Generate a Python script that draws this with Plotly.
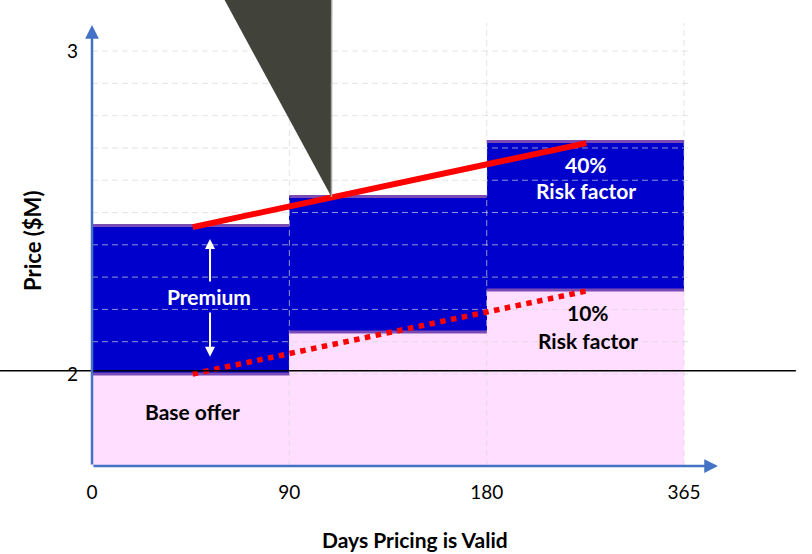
import plotly.graph_objects as go

# ---------------- data ----------------
period_ticks = ["0", "90", "180", "365"]          # days pricing is valid (segment boundaries)
base_offer = [2.0, 2.13, 2.26]                     # base offer price ($M) per validity period
total_price = [2.46, 2.55, 2.72]                   # base + premium ($M)
y_ticks = [2, 3]
grid_levels = [2.0, 2.1, 2.2, 2.3, 2.4, 2.5, 2.6, 2.7, 2.8, 2.9, 3.0]

# trend lines (start / end), in segment-position units
risk40_x = [0.51, 2.505]
risk40_y = [2.455, 2.715]
risk10_x = [0.51, 2.505]
risk10_y = [2.0, 2.257]

# ---------------- layout constants ----------------
X_RANGE = [0, 3.03]
Y_RANGE = [1.715, 3.087]
FONT = "Lato"
BLUE = "#0000CC"
PINK = "#FFDEFF"
PURPLE = "#7B4BB5"
AXIS_BLUE = "#4472C4"
GRID = "rgba(215,215,215,0.68)"

n = len(base_offer)
pos = list(range(len(period_ticks)))
centers = [p + 0.5 for p in pos[:-1]]
premium = [t - b for t, b in zip(total_price, base_offer)]

fig = go.Figure()

# base offer (pink)
fig.add_trace(go.Bar(x=centers, y=base_offer, width=[1] * n, marker=dict(color=PINK, line=dict(width=0)),
                     hoverinfo="skip", name="Base offer"))
# premium (blue)
fig.add_trace(go.Bar(x=centers, y=premium, base=base_offer, width=[1] * n,
                     marker=dict(color=BLUE, line=dict(width=0)), hoverinfo="skip", name="Premium"))

# grid (drawn over the bars)
gx, gy = [], []
for lv in grid_levels:
    gx += [X_RANGE[0], X_RANGE[1], None]
    gy += [lv, lv, None]
for p in pos[1:]:
    gx += [p, p, None]
    gy += [Y_RANGE[0], Y_RANGE[1], None]
fig.add_trace(go.Scatter(x=gx, y=gy, mode="lines", line=dict(color=GRID, width=1, dash="6px,4px"),
                         hoverinfo="skip", showlegend=False))

# purple top edges of each block
ex, ey = [], []
for i in range(n):
    for v in (base_offer[i], total_price[i]):
        ex += [pos[i], pos[i + 1], None]
        ey += [v, v, None]
fig.add_trace(go.Scatter(x=ex, y=ey, mode="lines", line=dict(color=PURPLE, width=3),
                         hoverinfo="skip", showlegend=False))

# red trend lines
fig.add_trace(go.Scatter(x=risk40_x, y=risk40_y, mode="lines", line=dict(color="#FF0000", width=6),
                         hoverinfo="skip", showlegend=False))
fig.add_trace(go.Scatter(x=risk10_x, y=risk10_y, mode="lines", line=dict(color="#FF0000", width=5.5, dash="dot"),
                         hoverinfo="skip", showlegend=False))

# decorative callout triangle (paper coords, extends beyond the plot top)
fig.add_shape(type="path", xref="paper", yref="paper",
              path="M 0.2185 1.06 L 0.4008 1.06 L 0.4005 0.607 Z",
              fillcolor="#41433A", line=dict(width=0), layer="above")
fig.add_shape(type="line", xref="paper", yref="paper", x0=0.4008, y0=1.06, x1=0.4005, y1=0.607,
              line=dict(color="#A8A8A8", width=1.5), layer="above")

# black reference line at ~2.0 across the whole picture
fig.add_shape(type="line", xref="paper", yref="y", x0=-0.1538, x1=1.177, y0=2.01, y1=2.01,
              line=dict(color="black", width=1.5), layer="above")

annotations = []
# axis arrows
annotations.append(dict(xref="paper", yref="paper", x=0, y=0.9955, ax=0, ay=441, text="", showarrow=True,
                        arrowhead=2, arrowsize=1.1, arrowwidth=2.5, arrowcolor=AXIS_BLUE, standoff=0))
annotations.append(dict(xref="paper", yref="paper", x=1.0468, y=0, ax=-626, ay=0, text="", showarrow=True,
                        arrowhead=2, arrowsize=1.1, arrowwidth=2.5, arrowcolor=AXIS_BLUE, standoff=0))
# axis titles
annotations.append(dict(xref="paper", yref="paper", x=-0.0987, y=0.508, xanchor="center", yanchor="middle",
                        text="<b>Price ($M)</b>", textangle=-90,
                        showarrow=False, font=dict(family=FONT, size=22, color="black")))
annotations.append(dict(xref="paper", yref="paper", x=0.540, y=-0.165, xanchor="center", yanchor="middle",
                        text="<b>Days Pricing is Valid</b>",
                        showarrow=False, font=dict(family=FONT, size=21, color="black")))
# premium arrows
annotations.append(dict(xref="x", yref="y", axref="x", ayref="y", x=0.598, y=2.418, ax=0.598, ay=2.282,
                        text="", showarrow=True, arrowhead=2, arrowsize=1, arrowwidth=2, arrowcolor="white"))
annotations.append(dict(xref="x", yref="y", axref="x", ayref="y", x=0.598, y=2.053, ax=0.598, ay=2.195,
                        text="", showarrow=True, arrowhead=2, arrowsize=1, arrowwidth=2, arrowcolor="white"))
# text labels
labels = [
    ("Premium", 0.593, 2.240, "white"),
    ("Base offer", 0.507, 1.885, "black"),
    ("40%", 2.503, 2.648, "white"),
    ("Risk factor", 2.503, 2.568, "white"),
    ("10%", 2.513, 2.190, "black"),
    ("Risk factor", 2.513, 2.105, "black"),
]
for txt, lx, ly, col in labels:
    annotations.append(dict(xref="x", yref="y", x=lx, y=ly, text=f"<b>{txt}</b>", showarrow=False,
                            xanchor="center", yanchor="middle",
                            font=dict(family=FONT, size=21, color=col)))

fig.update_layout(
    width=812, height=554,
    margin=dict(l=92, r=122, t=23, b=88, autoexpand=False),
    paper_bgcolor="white", plot_bgcolor="white",
    barmode="overlay", bargap=0, showlegend=False, hovermode=False,
    annotations=annotations,
    xaxis=dict(range=X_RANGE, tickvals=pos, ticktext=period_ticks, showgrid=False, zeroline=False,
               showline=False, ticks="", ticklabelstandoff=13, fixedrange=True,
               tickfont=dict(family=FONT, size=19, color="black")),
    yaxis=dict(range=Y_RANGE, tickvals=y_ticks, ticktext=[str(v) for v in y_ticks], showgrid=False,
               zeroline=False, showline=False, ticks="", ticklabelstandoff=13, fixedrange=True,
               tickfont=dict(family=FONT, size=19, color="black")),
)

fig.write_html("out.html", config={"displayModeBar": False},
               post_script="document.body.style.margin='0px';document.body.style.padding='0px';")
